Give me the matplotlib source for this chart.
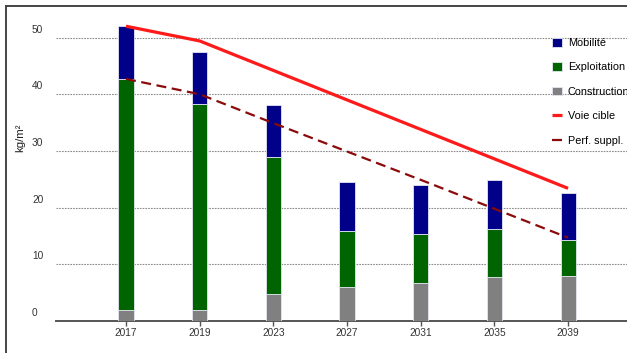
import numpy as np
import matplotlib
matplotlib.use('Agg')
import matplotlib.pyplot as plt
from matplotlib.lines import Line2D
from matplotlib.transforms import ScaledTranslation

plt.rc('font', family=['Liberation Sans', 'DejaVu Sans'])

# kg/m2 per year, stacked from the bottom up
years = ['2017', '2019', '2023', '2027', '2031', '2035', '2039']
construction = [1.9, 2.0, 4.7, 6.0, 6.7, 7.8, 8.0]
exploitation = [40.8, 36.2, 24.3, 9.8, 8.7, 8.4, 6.2]
mobilite = [9.3, 9.3, 9.1, 8.7, 8.6, 8.7, 8.3]
voie_cible = [52.0, 49.4, 44.2, 39.0, 33.8, 28.6, 23.4]
perf_suppl = [42.7, 40.0, 34.9, 29.9, 24.9, 19.8, 14.7]
yticks = [0, 10, 20, 30, 40, 50]

W, H, dpi = 627, 353, 100
fig = plt.figure(figsize=(W/dpi, H/dpi), dpi=dpi)
# axes placed in pixels: x from 56 to 627, y from 321 (value 0) up
ax = fig.add_axes([56/W, 32/H, 1-56/W, 311.8/H])

x = np.arange(len(years))
bw = 0.205
edge = dict(edgecolor='#e4e6f2', linewidth=0.6)
c = np.array(construction)
e = np.array(exploitation)
m = np.array(mobilite)
b1 = ax.bar(x, c, bw, color='#808080', label='Construction', zorder=3, **edge)
b2 = ax.bar(x, e, bw, bottom=c, color='#006400', label='Exploitation', zorder=3, **edge)
b3 = ax.bar(x, m, bw, bottom=c+e, color='#000088', label='Mobilité', zorder=3, **edge)
l1, = ax.plot(x, voie_cible, color='#ff1a1a', lw=2.3, label='Voie cible', zorder=4, solid_capstyle='butt')
l2, = ax.plot(x, perf_suppl, color='#8b0a0a', lw=1.6, ls=(0, (4.5, 2.5)), label='Perf. suppl.', zorder=4)

ax.set_xlim(-0.95, 6.80)
ax.set_ylim(0, 55)
ax.set_xticks(x)
ax.set_xticklabels(years)
ax.set_yticks(yticks)
for s in ['top', 'right', 'left']:
	ax.spines[s].set_visible(False)
ax.spines['bottom'].set_color('#555555')
ax.spines['bottom'].set_linewidth(1.4)
ax.tick_params(axis='x', length=3.5, width=1.0, color='#555555', labelsize=7.3, labelcolor='#333333', pad=1.5)
ax.tick_params(axis='y', length=0, labelsize=7.3, labelcolor='#333333', pad=17.3)
for lab in ax.get_yticklabels():
	lab.set_horizontalalignment('left')
	lab.set_verticalalignment('bottom')
	lab.set_transform(lab.get_transform() + ScaledTranslation(0, 3/dpi, fig.dpi_scale_trans))

for yv in yticks[1:]:
	ax.axhline(yv, color='#8c8c8c', lw=0.8, ls=(0, (1.5, 1)), zorder=1)

fig.text(20/W, 1-138/H, 'kg/m²', rotation=90, ha='center', va='center', fontsize=8.2, color='#222222')

# legend runs past the right edge, last letters of "Construction" get clipped
ax.legend(handles=[b3, b2, b1, l1, l2], loc='upper left', bbox_to_anchor=(552/W, 1-38/H),
	bbox_transform=fig.transFigure, frameon=False, fontsize=7.8, handlelength=0.95,
	handleheight=0.85, handletextpad=0.5, labelspacing=1.32, borderaxespad=0, borderpad=0)

# outer frame, top and left edges only
fig.add_artist(Line2D([6/W, 1], [1-6/H, 1-6/H], color='#444444', lw=1.4, transform=fig.transFigure))
fig.add_artist(Line2D([6/W, 6/W], [0, 1-6/H], color='#444444', lw=1.4, transform=fig.transFigure))

plt.savefig('out.png', dpi=dpi)
plt.close()
